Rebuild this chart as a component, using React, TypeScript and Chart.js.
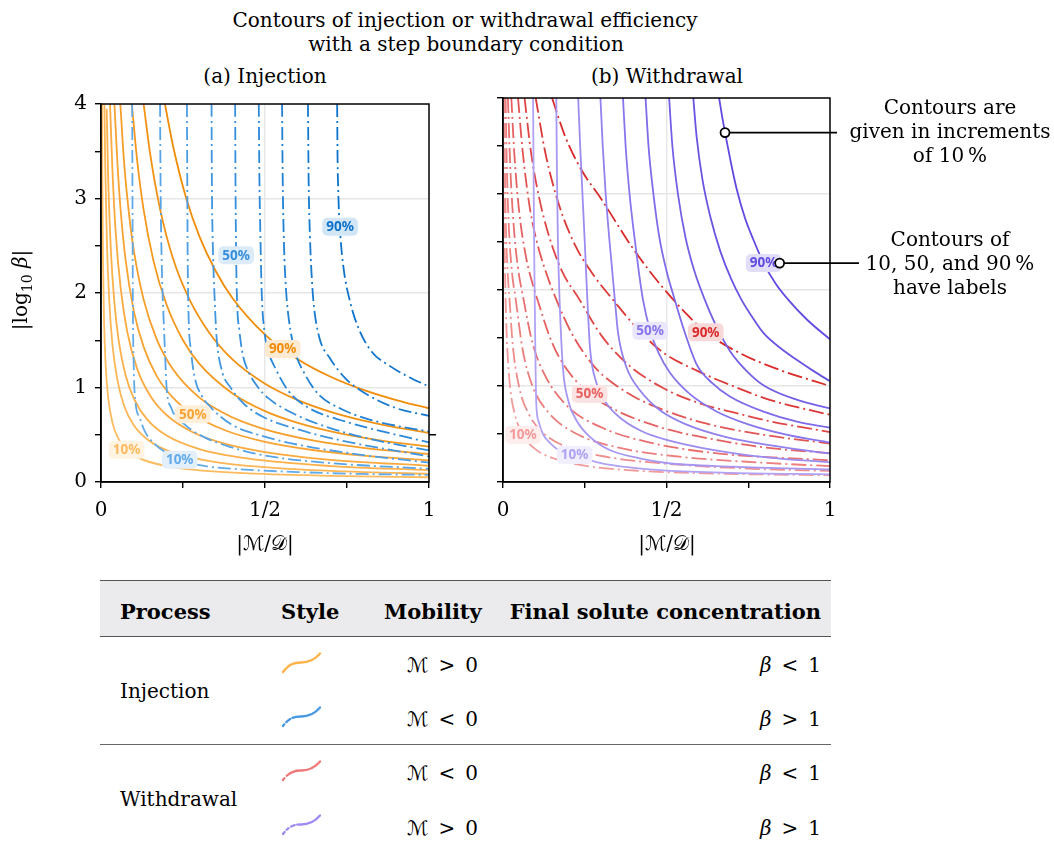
import React, { useEffect, useRef } from 'react';
import { Chart, registerables } from 'chart.js';

Chart.register(...registerables);

type Pt = [number, number];

// ---------------- DATA ----------------
const levelNames = ['10%', '20%', '30%', '40%', '50%', '60%', '70%', '80%', '90%'];
const xTickLabels: Record<string, string> = { '0': '0', '0.5': '1/2', '1': '1' };
const yTickLabels: Record<string, string> = { '0': '0', '1': '1', '2': '2', '3': '3', '4': '4' };

// (a) Injection, M > 0 (beta < 1) — orange solid contours
const injPos10: Pt[] = [[0.003, 4.0], [0.004, 3.21], [0.006, 2.37], [0.009, 1.74], [0.014, 1.25], [0.022, 0.89], [0.035, 0.626], [0.055, 0.445], [0.08, 0.336], [0.12, 0.247], [0.2, 0.168], [0.3, 0.124], [0.45, 0.091], [0.7, 0.065], [1.0, 0.05]];
const injPos20: Pt[] = [[0.0102, 4.0], [0.013, 3.34], [0.018, 2.54], [0.025, 1.93], [0.035, 1.45], [0.05, 1.08], [0.07, 0.81], [0.1, 0.6], [0.15, 0.428], [0.22, 0.31], [0.35, 0.21], [0.55, 0.144], [0.8, 0.105], [1.0, 0.087]];
const injPos30: Pt[] = [[0.0173, 3.95], [0.022, 3.2], [0.03, 2.46], [0.04, 1.93], [0.055, 1.47], [0.075, 1.13], [0.1, 0.885], [0.14, 0.665], [0.2, 0.491], [0.3, 0.348], [0.45, 0.247], [0.7, 0.169], [1.0, 0.125]];
const injPos40: Pt[] = [[0.0275, 4.0], [0.035, 3.29], [0.045, 2.63], [0.06, 2.05], [0.08, 1.59], [0.11, 1.2], [0.15, 0.913], [0.2, 0.709], [0.28, 0.527], [0.38, 0.403], [0.5, 0.317], [0.7, 0.235], [1.0, 0.172]];
const injPos50: Pt[] = [[0.041, 4.0], [0.05, 3.38], [0.06, 2.87], [0.075, 2.35], [0.1, 1.81], [0.13, 1.43], [0.17, 1.12], [0.22, 0.89], [0.28, 0.717], [0.38, 0.545], [0.5, 0.425], [0.65, 0.336], [0.8, 0.279], [1.0, 0.228]];
const injPos60: Pt[] = [[0.059, 4.0], [0.07, 3.4], [0.085, 2.85], [0.1, 2.45], [0.13, 1.93], [0.17, 1.51], [0.22, 1.19], [0.3, 0.893], [0.4, 0.685], [0.5, 0.558], [0.65, 0.438], [0.8, 0.362], [1.0, 0.295]];
const injPos70: Pt[] = [[0.094, 4.0], [0.11, 3.41], [0.13, 2.88], [0.16, 2.34], [0.2, 1.875], [0.25, 1.5], [0.3, 1.25], [0.4, 0.94], [0.5, 0.75], [0.6, 0.625], [0.7, 0.536], [0.85, 0.441], [1.0, 0.375]];
const injPos80: Pt[] = [[0.13, 4.0], [0.15, 3.47], [0.18, 2.89], [0.22, 2.36], [0.27, 1.93], [0.33, 1.58], [0.4, 1.3], [0.5, 1.04], [0.6, 0.867], [0.7, 0.743], [0.8, 0.65], [0.9, 0.578], [1.0, 0.52]];
const injPos90: Pt[] = [[0.195, 4.0], [0.22, 3.55], [0.26, 3.0], [0.3, 2.6], [0.35, 2.23], [0.4, 1.95], [0.5, 1.56], [0.6, 1.3], [0.7, 1.114], [0.8, 0.975], [0.9, 0.867], [1.0, 0.78]];

// (a) Injection, M < 0 (beta > 1) — blue dash-dot contours
const injNeg10: Pt[] = [[0.095, 4.0], [0.096, 3.0], [0.097, 2.0], [0.1, 1.2], [0.105, 0.85], [0.118, 0.68], [0.133, 0.54], [0.164, 0.4], [0.204, 0.3], [0.24, 0.235], [0.296, 0.18], [0.4, 0.14], [0.6, 0.105], [0.8, 0.085], [1.0, 0.075]];
const injNeg20: Pt[] = [[0.18, 4.0], [0.182, 3.0], [0.186, 2.2], [0.19, 1.8], [0.196, 1.3], [0.2, 1.0], [0.214, 0.785], [0.255, 0.61], [0.316, 0.472], [0.397, 0.368], [0.499, 0.28], [0.7, 0.2], [1.0, 0.14]];
const injNeg30: Pt[] = [[0.262, 4.0], [0.263, 3.2], [0.264, 2.5], [0.266, 1.9], [0.275, 1.375], [0.286, 1.1], [0.306, 0.92], [0.336, 0.785], [0.397, 0.61], [0.479, 0.5], [0.6, 0.395], [0.8, 0.285], [1.0, 0.205]];
const injNeg40: Pt[] = [[0.337, 4.0], [0.338, 3.2], [0.341, 2.5], [0.347, 1.9], [0.352, 1.55], [0.367, 1.2], [0.397, 0.99], [0.438, 0.82], [0.499, 0.68], [0.592, 0.565], [0.745, 0.43], [1.0, 0.27]];
const injNeg50: Pt[] = [[0.409, 4.0], [0.41, 3.2], [0.412, 2.4], [0.415, 1.9], [0.422, 1.6], [0.432, 1.35], [0.448, 1.18], [0.479, 1.0], [0.509, 0.89], [0.592, 0.715], [0.694, 0.576], [0.826, 0.45], [1.0, 0.335]];
const injNeg60: Pt[] = [[0.481, 4.0], [0.483, 3.2], [0.486, 2.6], [0.49, 2.0], [0.498, 1.6], [0.511, 1.375], [0.532, 1.2], [0.572, 0.96], [0.633, 0.785], [0.745, 0.64], [0.877, 0.52], [1.0, 0.42]];
const injNeg70: Pt[] = [[0.552, 4.0], [0.554, 3.2], [0.558, 2.5], [0.563, 2.1], [0.567, 1.9], [0.577, 1.618], [0.592, 1.375], [0.623, 1.132], [0.664, 0.924], [0.725, 0.785], [0.816, 0.663], [0.918, 0.583], [1.0, 0.535]];
const injNeg80: Pt[] = [[0.631, 4.0], [0.633, 3.2], [0.637, 2.6], [0.642, 2.2], [0.648, 1.9], [0.664, 1.55], [0.699, 1.305], [0.745, 1.097], [0.796, 0.958], [0.897, 0.785], [1.0, 0.7]];
const injNeg90: Pt[] = [[0.72, 4.0], [0.721, 3.5], [0.724, 3.0], [0.73, 2.6], [0.74, 2.25], [0.76, 1.9], [0.786, 1.62], [0.826, 1.375], [0.877, 1.236], [0.928, 1.13], [1.0, 1.01]];

// (b) Withdrawal, M < 0 (beta < 1) — red dash-dot contours
const wdNeg10: Pt[] = [[0.002, 4.0], [0.003, 3.2], [0.005, 2.5], [0.008, 1.9], [0.013, 1.4], [0.022, 0.98], [0.035, 0.72], [0.061, 0.49], [0.1, 0.34], [0.16, 0.24], [0.25, 0.17], [0.4, 0.12], [0.65, 0.088], [1.0, 0.07]];
const wdNeg20: Pt[] = [[0.004, 4.0], [0.006, 3.25], [0.009, 2.65], [0.014, 2.2], [0.02, 1.9], [0.03, 1.42], [0.05, 0.98], [0.08, 0.7], [0.13, 0.49], [0.2, 0.36], [0.32, 0.26], [0.5, 0.19], [0.75, 0.14], [1.0, 0.115]];
const wdNeg30: Pt[] = [[0.008, 4.0], [0.012, 3.25], [0.018, 2.65], [0.027, 2.2], [0.039, 1.9], [0.06, 1.38], [0.09, 1.0], [0.14, 0.72], [0.22, 0.51], [0.35, 0.36], [0.55, 0.26], [0.8, 0.2], [1.0, 0.165]];
const wdNeg40: Pt[] = [[0.015, 4.0], [0.022, 3.3], [0.032, 2.7], [0.045, 2.25], [0.063, 1.9], [0.09, 1.45], [0.13, 1.1], [0.2, 0.78], [0.3, 0.57], [0.45, 0.41], [0.65, 0.3], [1.0, 0.225]];
const wdNeg50: Pt[] = [[0.0255, 4.0], [0.035, 3.4], [0.05, 2.8], [0.07, 2.35], [0.09, 2.07], [0.11, 1.85], [0.15, 1.45], [0.2, 1.15], [0.265, 0.917], [0.35, 0.74], [0.491, 0.56], [0.65, 0.44], [0.8, 0.36], [1.0, 0.3]];
const wdNeg60: Pt[] = [[0.046, 4.0], [0.06, 3.45], [0.08, 2.9], [0.1, 2.55], [0.13, 2.2], [0.163, 1.9], [0.21, 1.55], [0.28, 1.2], [0.38, 0.93], [0.491, 0.75], [0.62, 0.61], [0.8, 0.49], [1.0, 0.4]];
const wdNeg70: Pt[] = [[0.066, 4.0], [0.085, 3.45], [0.11, 2.97], [0.14, 2.57], [0.18, 2.2], [0.234, 1.9], [0.3, 1.53], [0.38, 1.23], [0.491, 0.976], [0.6, 0.82], [0.695, 0.733], [0.82, 0.63], [1.0, 0.52]];
const wdNeg80: Pt[] = [[0.1, 4.0], [0.13, 3.42], [0.17, 2.9], [0.22, 2.47], [0.28, 2.14], [0.336, 1.9], [0.41, 1.6], [0.491, 1.345], [0.593, 1.16], [0.695, 1.01], [0.818, 0.854], [1.0, 0.7]];
const wdNeg90: Pt[] = [[0.15, 4.0], [0.19, 3.6], [0.24, 3.25], [0.3, 2.95], [0.4, 2.42], [0.49, 2.02], [0.57, 1.72], [0.62, 1.56], [0.726, 1.34], [0.848, 1.165], [1.0, 1.0]];

// (b) Withdrawal, M > 0 (beta > 1) — purple solid contours
const wdPos10: Pt[] = [[0.092, 4.0], [0.094, 3.0], [0.096, 2.2], [0.098, 1.6], [0.1, 1.1], [0.102, 0.8], [0.11, 0.62], [0.122, 0.5], [0.14, 0.42], [0.163, 0.35], [0.219, 0.28], [0.296, 0.2], [0.398, 0.148], [0.5, 0.118], [0.7, 0.095], [1.0, 0.08]];
const wdPos20: Pt[] = [[0.163, 4.0], [0.165, 3.2], [0.168, 2.5], [0.173, 1.9], [0.183, 1.2], [0.199, 0.854], [0.224, 0.646], [0.265, 0.472], [0.326, 0.333], [0.418, 0.247], [0.5, 0.198], [0.7, 0.16], [1.0, 0.13]];
const wdPos30: Pt[] = [[0.23, 4.0], [0.236, 3.5], [0.243, 3.0], [0.25, 2.5], [0.258, 1.9], [0.266, 1.4], [0.286, 1.03], [0.316, 0.82], [0.367, 0.646], [0.428, 0.524], [0.5, 0.44], [0.65, 0.33], [0.8, 0.26], [1.0, 0.205]];
const wdPos40: Pt[] = [[0.298, 4.0], [0.305, 3.5], [0.314, 3.0], [0.326, 2.5], [0.342, 1.9], [0.352, 1.55], [0.377, 1.2], [0.418, 0.958], [0.479, 0.75], [0.56, 0.6], [0.68, 0.47], [0.84, 0.37], [1.0, 0.295]];
const wdPos50: Pt[] = [[0.367, 4.0], [0.375, 3.5], [0.387, 3.0], [0.402, 2.55], [0.415, 2.2], [0.428, 1.9], [0.45, 1.576], [0.475, 1.35], [0.51, 1.14], [0.57, 0.92], [0.65, 0.74], [0.75, 0.6], [0.87, 0.49], [1.0, 0.41]];
const wdPos60: Pt[] = [[0.436, 4.0], [0.445, 3.5], [0.46, 3.0], [0.478, 2.55], [0.5, 2.2], [0.525, 1.9], [0.55, 1.62], [0.593, 1.22], [0.64, 1.03], [0.695, 0.889], [0.797, 0.733], [0.899, 0.628], [1.0, 0.566]];
const wdPos70: Pt[] = [[0.508, 4.0], [0.518, 3.5], [0.535, 3.0], [0.558, 2.55], [0.585, 2.2], [0.617, 1.9], [0.65, 1.64], [0.695, 1.36], [0.75, 1.14], [0.8, 1.0], [0.9, 0.855], [1.0, 0.767]];
const wdPos80: Pt[] = [[0.582, 4.0], [0.592, 3.6], [0.61, 3.15], [0.635, 2.75], [0.665, 2.4], [0.697, 2.12], [0.729, 1.9], [0.76, 1.73], [0.797, 1.55], [0.85, 1.39], [0.899, 1.27], [0.95, 1.155], [1.0, 1.05]];
const wdPos90: Pt[] = [[0.661, 4.0], [0.668, 3.85], [0.679, 3.64], [0.695, 3.36], [0.714, 3.06], [0.74, 2.75], [0.765, 2.53], [0.797, 2.28], [0.835, 2.06], [0.872, 1.9], [0.93, 1.69], [1.0, 1.485]];

const injPosCurves = [injPos10, injPos20, injPos30, injPos40, injPos50, injPos60, injPos70, injPos80, injPos90];
const injNegCurves = [injNeg10, injNeg20, injNeg30, injNeg40, injNeg50, injNeg60, injNeg70, injNeg80, injNeg90];
const wdNegCurves = [wdNeg10, wdNeg20, wdNeg30, wdNeg40, wdNeg50, wdNeg60, wdNeg70, wdNeg80, wdNeg90];
const wdPosCurves = [wdPos10, wdPos20, wdPos30, wdPos40, wdPos50, wdPos60, wdPos70, wdPos80, wdPos90];

// inline contour labels: [family, level index, x, y]
const injLabels: [number, number, number, number][] = [
  [0, 0, 0.078, 0.34], [0, 4, 0.28, 0.717], [0, 8, 0.554, 1.408],
  [1, 0, 0.24, 0.235], [1, 4, 0.412, 2.4], [1, 8, 0.729, 2.7],
];
const wdLabels: [number, number, number, number][] = [
  [0, 0, 0.061, 0.49], [0, 4, 0.265, 0.917], [0, 8, 0.62, 1.56],
  [1, 0, 0.219, 0.28], [1, 4, 0.45, 1.576], [1, 8, 0.797, 2.28],
];
// callout anchor points in panel (b)
const calloutPoints: Pt[] = [[0.679, 3.64], [0.846, 2.28]];

// ---------------- STYLE ----------------
const SERIF = '"DejaVu Serif", serif';
const SANS = '"Noto Sans", "Open Sans", sans-serif';
const GRID = '#e6e6e6';

const orangeCols = ['#fdbb60', '#fcb655', '#fbb04a', '#faaa3f', '#f8a434', '#f69e29', '#f4981e', '#f29213', '#f08c08'];
const blueCols = ['#62abea', '#57a4e7', '#4c9de4', '#4196e0', '#368fdc', '#2b88d8', '#2181d3', '#177acf', '#0d73ca'];
const redCols = ['#f29a9a', '#ef8c8c', '#ec7e7e', '#e97070', '#e66262', '#e35454', '#e04646', '#dd3838', '#da2a2a'];
const purpleCols = ['#b0a2f5', '#a697f3', '#9c8cf1', '#9281ee', '#8876ec', '#7e6be9', '#7460e6', '#6a55e3', '#604ae0'];

function tint(hex: string, amt: number) {
  const n = parseInt(hex.slice(1), 16);
  const r = (n >> 16) & 255, g = (n >> 8) & 255, b = n & 255;
  const m = (c: number) => Math.round(c + (255 - c) * amt);
  return `rgb(${m(r)},${m(g)},${m(b)})`;
}

type Family = { curves: Pt[][]; colors: string[]; dash: number[]; width: number };

type PlotProps = {
  left: number; top: number; width: number; height: number;
  yWidth: number; padRight: number; showYLabels: boolean;
  families: Family[]; drawOrder: number[];
  labels: [number, number, number, number][];
  callouts?: boolean; strayTick?: boolean;
};

function Plot(p: PlotProps) {
  const ref = useRef<HTMLCanvasElement>(null);
  useEffect(() => {
    const canvas = ref.current!;
    const datasets: any[] = [];
    p.drawOrder.forEach((fi) => {
      const fam = p.families[fi];
      fam.curves.forEach((c, i) => {
        datasets.push({
          data: c.map(([x, y]) => ({ x, y })),
          showLine: true,
          borderColor: fam.colors[i],
          borderWidth: fam.width,
          borderDash: fam.dash,
          pointRadius: 0,
          pointHoverRadius: 0,
          fill: false,
          cubicInterpolationMode: 'monotone',
        });
      });
    });

    const labelPlugin = {
      id: 'contourLabels',
      afterDatasetsDraw(chart: any) {
        const { ctx, scales } = chart;
        ctx.save();
        ctx.font = `bold 13.5px ${SANS}`;
        ctx.textAlign = 'center';
        ctx.textBaseline = 'middle';
        p.labels.forEach(([fi, li, x, y]) => {
          const col = p.families[fi].colors[li];
          const px = scales.x.getPixelForValue(x);
          const py = scales.y.getPixelForValue(y);
          const txt = levelNames[li];
          const w = ctx.measureText(txt).width + 8;
          const h = 18;
          ctx.fillStyle = tint(col, 0.82);
          ctx.beginPath();
          (ctx as any).roundRect(px - w / 2, py - h / 2, w, h, 5);
          ctx.fill();
          ctx.fillStyle = col;
          ctx.fillText(txt, px, py + 0.5);
        });
        ctx.restore();
      },
    };

    const framePlugin = {
      id: 'frame',
      afterDraw(chart: any) {
        const { ctx, chartArea: a, scales } = chart;
        ctx.save();
        ctx.strokeStyle = '#000';
        ctx.lineWidth = 1.5;
        ctx.strokeRect(a.left, a.top, a.right - a.left, a.bottom - a.top);
        if (p.strayTick) {
          const py = scales.y.getPixelForValue(0.5);
          ctx.beginPath();
          ctx.moveTo(a.right, py);
          ctx.lineTo(a.right + 7, py);
          ctx.stroke();
        }
        if (p.callouts) {
          const ends = [a.right + 7, a.right + 29];
          ctx.lineWidth = 1.8;
          calloutPoints.forEach(([x, y], i) => {
            const px = scales.x.getPixelForValue(x);
            const py = scales.y.getPixelForValue(y);
            ctx.beginPath();
            ctx.moveTo(px, py);
            ctx.lineTo(ends[i], py);
            ctx.stroke();
            ctx.beginPath();
            ctx.arc(px, py, 4.5, 0, Math.PI * 2);
            ctx.fillStyle = '#fff';
            ctx.fill();
            ctx.stroke();
          });
        }
        ctx.restore();
      },
    };

    const chart = new Chart(canvas, {
      type: 'scatter',
      data: { datasets },
      options: {
        animation: false,
        responsive: false,
        events: [],
        layout: { padding: { top: 14, right: p.padRight, bottom: 0, left: 0 } },
        plugins: { legend: { display: false }, tooltip: { enabled: false }, title: { display: false } },
        scales: {
          x: {
            type: 'linear', min: 0, max: 1,
            afterBuildTicks: (s: any) => { s.ticks = [0, 0.25, 0.5, 0.75, 1].map((v) => ({ value: v })); },
            afterFit: (s: any) => { s.height = 86; },
            ticks: {
              callback: (v: any) => xTickLabels[String(v)] ?? '',
              font: { family: SERIF, size: 20 }, color: '#000', padding: 11,
              maxRotation: 0, autoSkip: false,
            },
            grid: {
              color: (c: any) => (c.tick && c.tick.value === 0.5 ? GRID : 'rgba(0,0,0,0)'),
              lineWidth: 1.4, tickColor: '#000', tickLength: 6, tickWidth: 1.4, drawTicks: true,
            },
            border: { display: true, color: '#000', width: 1.5 },
          },
          y: {
            type: 'linear', min: 0, max: 4,
            afterBuildTicks: (s: any) => { s.ticks = [0, 0.5, 1, 1.5, 2, 2.5, 3, 3.5, 4].map((v) => ({ value: v })); },
            afterFit: (s: any) => { s.width = p.yWidth; },
            ticks: {
              display: p.showYLabels,
              callback: (v: any) => yTickLabels[String(v)] ?? '',
              font: { family: SERIF, size: 20 }, color: '#000', padding: 8, autoSkip: false,
            },
            grid: {
              color: (c: any) => (c.tick && [1, 2, 3].includes(c.tick.value) ? GRID : 'rgba(0,0,0,0)'),
              lineWidth: 1.4, tickColor: '#000', tickLength: 6, tickWidth: 1.4, drawTicks: true,
            },
            border: { display: true, color: '#000', width: 1.5 },
          },
        },
      } as any,
      plugins: [labelPlugin, framePlugin],
    });
    return () => chart.destroy();
  }, []);
  return (
    <canvas
      ref={ref}
      width={p.width}
      height={p.height}
      style={{ position: 'absolute', left: p.left, top: p.top, width: p.width, height: p.height }}
    />
  );
}

type TP = { x: number; y: number; align?: 'left' | 'center' | 'right'; size?: number; bold?: boolean; w?: number; children: React.ReactNode };
function T({ x, y, align = 'center', size = 20, bold = false, w = 600, children }: TP) {
  const lh = Math.round(size * 1.2);
  const left = align === 'center' ? x - w / 2 : align === 'right' ? x - w : x;
  return (
    <div style={{
      position: 'absolute', left, top: y - lh / 2, width: w, height: lh, lineHeight: `${lh}px`,
      fontSize: size, fontFamily: SERIF, fontWeight: bold ? 'bold' : 'normal', textAlign: align,
      whiteSpace: 'nowrap', color: '#000',
    }}>{children}</div>
  );
}

const CalM = () => <span style={{ fontFamily: '"DejaVu Sans", serif', fontStyle: 'italic' }}>ℳ</span>;
const CalD = () => <span style={{ fontFamily: '"DejaVu Sans", serif' }}>𝒟</span>;
const Beta = () => <i>β</i>;
const SP = '\u2002';

function Icon({ x, y, color, dash }: { x: number; y: number; color: string; dash?: string }) {
  return (
    <svg width={42} height={24} style={{ position: 'absolute', left: x, top: y }} viewBox="0 0 42 24">
      <path d="M2 21 C 8 13, 13 11.5, 20 11.5 C 28 11.5, 34 8.5, 39 2.5" fill="none" stroke={color}
        strokeWidth={2.3} strokeLinecap="round" strokeDasharray={dash} />
    </svg>
  );
}

export default function App() {
  const injFamilies: Family[] = [
    { curves: injPosCurves, colors: orangeCols, dash: [], width: 1.8 },
    { curves: injNegCurves, colors: blueCols, dash: [13, 4, 2, 4], width: 1.8 },
  ];
  const wdFamilies: Family[] = [
    { curves: wdNegCurves, colors: redCols, dash: [15, 4, 2, 4], width: 1.8 },
    { curves: wdPosCurves, colors: purpleCols, dash: [], width: 1.8 },
  ];
  const rule = (top: number, color: string, h = 1.5) => (
    <div style={{ position: 'absolute', left: 100, top, width: 731, height: h, background: color }} />
  );
  return (
    <div style={{ position: 'absolute', left: 0, top: 0, width: 1054, height: 848, background: '#fff', overflow: 'hidden' }}>
      <T x={465} y={20}>Contours of injection or withdrawal efficiency</T>
      <T x={466} y={44}>with a step boundary condition</T>
      <T x={265} y={76}>(a) Injection</T>
      <T x={667} y={76}>(b) Withdrawal</T>

      <Plot left={0} top={84} width={450} height={484} yWidth={101} padRight={21} showYLabels
        families={injFamilies} drawOrder={[1, 0]} labels={injLabels} strayTick />
      <Plot left={470} top={84} width={584} height={484} yWidth={33} padRight={224} showYLabels={false}
        families={wdFamilies} drawOrder={[1, 0]} labels={wdLabels} callouts />

      <div style={{
        position: 'absolute', left: 20 - 90, top: 290 - 12, width: 180, height: 24, lineHeight: '24px',
        transform: 'rotate(-90deg)', textAlign: 'center', fontFamily: SERIF, fontSize: 20, whiteSpace: 'nowrap',
      }}>|log<sub style={{ fontSize: 14, lineHeight: 0 }}>10</sub> <Beta />|</div>
      <T x={265} y={543}>|<CalM />/<CalD />|</T>
      <T x={667} y={543}>|<CalM />/<CalD />|</T>

      <T x={950} y={107}>Contours are</T>
      <T x={950} y={131}>given in increments</T>
      <T x={950} y={155}>of 10{'\u2009'}%</T>
      <T x={950} y={239}>Contours of</T>
      <T x={950} y={263}>10, 50, and 90{'\u2009'}%</T>
      <T x={950} y={287}>have labels</T>

      {/* table */}
      <div style={{ position: 'absolute', left: 100, top: 581, width: 731, height: 55, background: '#ebebed' }} />
      {rule(579.5, '#555')}
      {rule(635.5, '#555')}
      {rule(743.5, '#666', 1.3)}
      <T x={120} y={611} align="left" bold size={21}>Process</T>
      <T x={281} y={611} align="left" bold size={21}>Style</T>
      <T x={384} y={611} align="left" bold size={21}>Mobility</T>
      <T x={821} y={611} align="right" bold size={21}>Final solute concentration</T>

      <T x={120} y={691} align="left">Injection</T>
      <T x={120} y={799} align="left">Withdrawal</T>

      <Icon x={281} y={651} color="#fdb34a" />
      <Icon x={281} y={705} color="#4a98e4" dash="2 3 5 2.5 80" />
      <Icon x={281} y={759} color="#ee787a" dash="2 3.5 80" />
      <Icon x={281} y={813} color="#a08af2" dash="2.5 3 2.5 3 4 2.5 80" />

      <T x={407} y={665} align="left"><CalM />{SP}&gt;{SP}0</T>
      <T x={407} y={719} align="left"><CalM />{SP}&lt;{SP}0</T>
      <T x={407} y={773} align="left"><CalM />{SP}&lt;{SP}0</T>
      <T x={407} y={828} align="left"><CalM />{SP}&gt;{SP}0</T>

      <T x={821} y={665} align="right"><Beta />{SP}&lt;{SP}1</T>
      <T x={821} y={719} align="right"><Beta />{SP}&gt;{SP}1</T>
      <T x={821} y={773} align="right"><Beta />{SP}&lt;{SP}1</T>
      <T x={821} y={828} align="right"><Beta />{SP}&gt;{SP}1</T>
    </div>
  );
}
